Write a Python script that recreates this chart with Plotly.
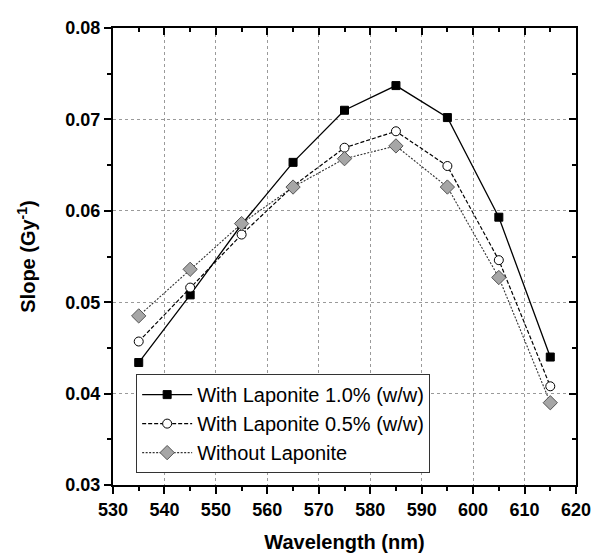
import plotly.graph_objects as go

wavelength = [535, 545, 555, 565, 575, 585, 595, 605, 615]
lap10 = [0.0434, 0.0508, 0.0585, 0.0653, 0.0710, 0.0737, 0.0702, 0.0593, 0.0440]
lap05 = [0.0457, 0.0516, 0.0574, 0.0627, 0.0669, 0.0687, 0.0649, 0.0546, 0.0408]
lap00 = [0.0485, 0.0536, 0.0586, 0.0626, 0.0657, 0.0671, 0.0626, 0.0527, 0.0390]
names = ["With Laponite 1.0% (w/w)", "With Laponite 0.5% (w/w)", "Without Laponite"]

FONT = "Liberation Sans, Arial, sans-serif"

fig = go.Figure()
fig.add_trace(go.Scatter(x=wavelength, y=lap10, name=names[0], mode="lines+markers",
                         line=dict(color="black", width=1.3, dash="solid"),
                         marker=dict(symbol="square", size=8, color="black",
                                     line=dict(color="black", width=1))))
fig.add_trace(go.Scatter(x=wavelength, y=lap05, name=names[1], mode="lines+markers",
                         line=dict(color="black", width=1.2, dash="4px,2px"),
                         marker=dict(symbol="circle", size=9, color="white",
                                     line=dict(color="black", width=1))))
fig.add_trace(go.Scatter(x=wavelength, y=lap00, name=names[2], mode="lines+markers",
                         line=dict(color="#333333", width=1.1, dash="2px,1.5px"),
                         marker=dict(symbol="diamond", size=11, color="#a6a6a6",
                                     line=dict(color="#555555", width=1))))
# invisible trace for mirrored inside-tick axes
fig.add_trace(go.Scatter(x=[530, 620], y=[0.03, 0.08], xaxis="x2", yaxis="y2",
                         mode="markers", marker=dict(opacity=0), showlegend=False,
                         hoverinfo="skip"))

fig.update_layout(
    width=595, height=557,
    margin=dict(l=113, r=19, t=28, b=72),
    paper_bgcolor="white", plot_bgcolor="white",
    font=dict(family=FONT, color="black"),
    xaxis=dict(range=[530, 620], dtick=10, tick0=530, automargin=False,
               showline=True, linecolor="black", linewidth=2,
               ticks="outside", ticklen=7, tickwidth=2, tickcolor="black",
               minor=dict(ticks="outside", ticklen=4, tickwidth=1.5, dtick=5, tickcolor="black", showgrid=False),
               showgrid=True, gridcolor="#9a9a9a", griddash="dot", gridwidth=1,
               zeroline=False,
               tickfont=dict(size=18, family=FONT, weight="bold"),
               title=dict(text="<b>Wavelength (nm)</b>", font=dict(size=20, family=FONT), standoff=16)),
    yaxis=dict(range=[0.03, 0.08], dtick=0.01, tick0=0.03, tickformat=".2f", automargin=False,
               showline=True, linecolor="black", linewidth=2,
               ticks="outside", ticklen=7, tickwidth=2, tickcolor="black",
               minor=dict(ticks="outside", ticklen=4, tickwidth=1.5, dtick=0.005, tickcolor="black", showgrid=False),
               showgrid=True, gridcolor="#9a9a9a", griddash="dot", gridwidth=1,
               zeroline=False,
               tickfont=dict(size=18, family=FONT, weight="bold"),
               title=dict(text="<b>Slope (Gy<sup>-1</sup>)</b>", font=dict(size=20, family=FONT), standoff=24)),
    xaxis2=dict(range=[530, 620], overlaying="x", side="top", dtick=10, tick0=530, automargin=False,
                showline=True, linecolor="black", linewidth=2,
                ticks="inside", ticklen=7, tickwidth=2, tickcolor="black",
                minor=dict(ticks="inside", ticklen=4, tickwidth=1.5, dtick=5, tickcolor="black"),
                showticklabels=False, showgrid=False, zeroline=False),
    yaxis2=dict(range=[0.03, 0.08], overlaying="y", side="right", dtick=0.01, tick0=0.03, automargin=False,
                showline=True, linecolor="black", linewidth=2,
                ticks="inside", ticklen=7, tickwidth=2, tickcolor="black",
                minor=dict(ticks="inside", ticklen=4, tickwidth=1.5, dtick=0.005, tickcolor="black"),
                showticklabels=False, showgrid=False, zeroline=False),
    legend=dict(x=0.05, y=0.026, xanchor="left", yanchor="bottom",
                bgcolor="white", bordercolor="#333333", borderwidth=1,
                font=dict(size=20, family=FONT), tracegroupgap=0,
                itemwidth=50),
    showlegend=True,
)

fig.write_html("out.html")
